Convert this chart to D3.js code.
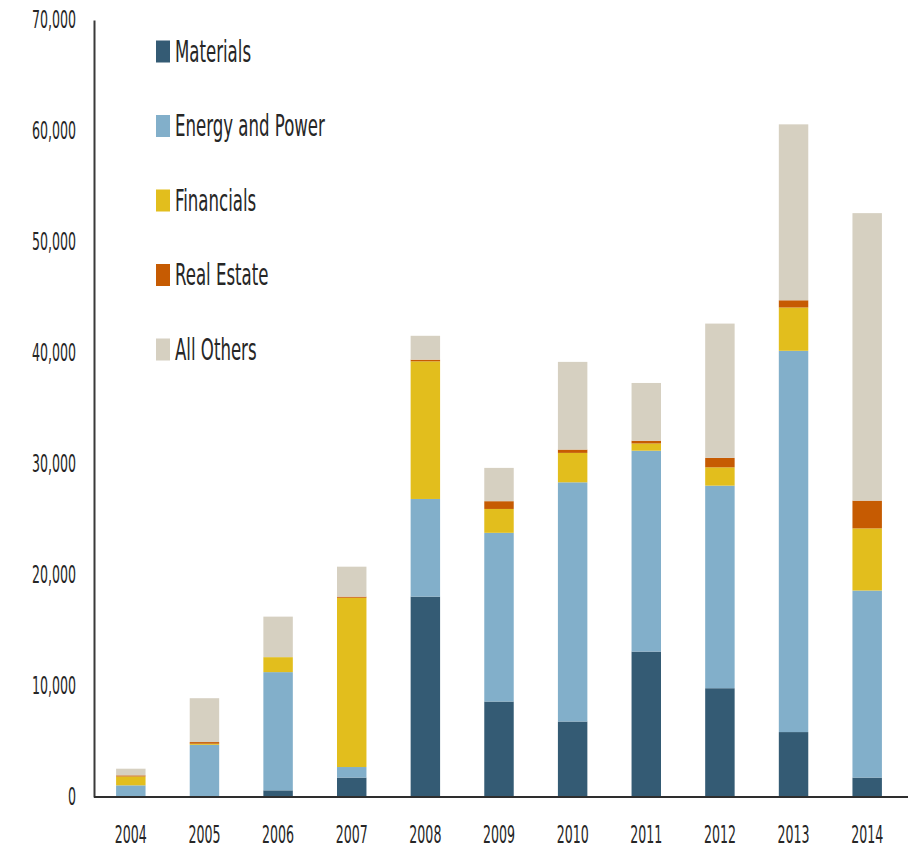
<!DOCTYPE html>
<html>
<head>
<meta charset="utf-8">
<script src="https://cdn.jsdelivr.net/npm/d3@7"></script>
<style>
  body { margin: 0; background: #fff; }
  text { font-family: "Liberation Sans Narrow", "Arial Narrow", "DejaVu Sans Condensed", sans-serif; fill: #262626; }
</style>
</head>
<body>
<div id="chart"></div>
<script>
// values
let years = ['2004', '2005', '2006', '2007', '2008', '2009', '2010', '2011', '2012', '2013', '2014'];
let materials  = [0, 0, 600, 1750, 18050, 8600, 6800, 13100, 9800, 5850, 1750];
let energy     = [1050, 4700, 10650, 950, 8800, 15200, 21550, 18100, 18250, 34350, 16850];
let financials = [800, 100, 1350, 15250, 12400, 2150, 2650, 650, 1650, 3900, 5600];
let realEstate = [100, 150, 0, 100, 150, 700, 300, 250, 850, 650, 2500];
let allOthers  = [600, 3950, 3650, 2700, 2150, 3000, 7900, 5200, 12100, 15850, 25900];
let yTicks = [0, 10000, 20000, 30000, 40000, 50000, 60000, 70000];

let seriesNames = ['Materials', 'Energy and Power', 'Financials', 'Real Estate', 'All Others'];
let seriesValues = [materials, energy, financials, realEstate, allOthers];
let colors = ['#345b74', '#82afca', '#e2be1d', '#c65b02', '#d6d0c1'];

let width = 908, height = 849;
let x0 = 94, x1 = 904, yBase = 797, yTop = 20;
// the type in the picture is tall and narrow
let tickStretch = 'scale(0.8,1.42)';
let legendStretch = 'scale(0.82,1.3)';

let svg = d3.select('#chart').append('svg')
    .attr('width', width)
    .attr('height', height);

let x = d3.scaleBand()
    .domain(years)
    .range([x0, x1])
    .paddingInner(0.6)
    .paddingOuter(0.3);

let y = d3.scaleLinear()
    .domain([0, 70000])
    .range([yBase, yTop]);

let table = years.map((yr, i) => {
    let row = { year: yr };
    seriesNames.forEach((s, j) => row[s] = seriesValues[j][i]);
    return row;
});

let stacked = d3.stack().keys(seriesNames)(table);

svg.append('g').selectAll('g')
    .data(stacked)
    .join('g')
    .attr('fill', (d, i) => colors[i])
    .selectAll('rect')
    .data(d => d)
    .join('rect')
    .attr('x', d => x(d.data.year))
    .attr('width', x.bandwidth())
    .attr('y', d => y(d[1]))
    .attr('height', d => y(d[0]) - y(d[1]));

// y axis: line + labels only (no tick marks)
let yAxis = svg.append('g')
    .attr('transform', `translate(${x0},0)`)
    .call(d3.axisLeft(y).tickValues(yTicks).tickSize(0).tickFormat(d3.format(',')));
yAxis.select('.domain').attr('stroke', '#3a3a3a').attr('stroke-width', 2);
yAxis.selectAll('.tick').each(function (d) {
    d3.select(this).attr('transform', `translate(-18,${y(d)}) ${tickStretch}`);
});
yAxis.selectAll('.tick text')
    .attr('x', 0)
    .attr('font-size', 17.5)
    .attr('dy', '0.33em');

// x axis baseline
let xAxis = svg.append('g')
    .attr('transform', `translate(0,${yBase})`)
    .call(d3.axisBottom(x).tickSize(0).tickPadding(0));
xAxis.select('.domain').remove();
xAxis.append('line')
    .attr('x1', x0).attr('x2', width)
    .attr('y1', 0).attr('y2', 0)
    .attr('stroke', '#2e2e2e')
    .attr('stroke-width', 2.2);
xAxis.selectAll('.tick').each(function (d) {
    d3.select(this).attr('transform', `translate(${x(d) + x.bandwidth() / 2},37) ${tickStretch}`);
});
xAxis.selectAll('.tick text')
    .attr('font-size', 17.5)
    .attr('y', 0)
    .attr('dy', '0.35em');

// legend
let legend = svg.append('g').selectAll('g')
    .data(seriesNames)
    .join('g')
    .attr('transform', (d, i) => `translate(156,${51.5 + i * 74.5})`);

legend.append('rect')
    .attr('x', 0).attr('y', -11)
    .attr('width', 14).attr('height', 22)
    .attr('fill', (d, i) => colors[i]);

legend.append('text')
    .attr('transform', `translate(19,0) ${legendStretch}`)
    .attr('font-size', 22.5)
    .attr('dy', '0.35em')
    .text(d => d);
</script>
</body>
</html>
